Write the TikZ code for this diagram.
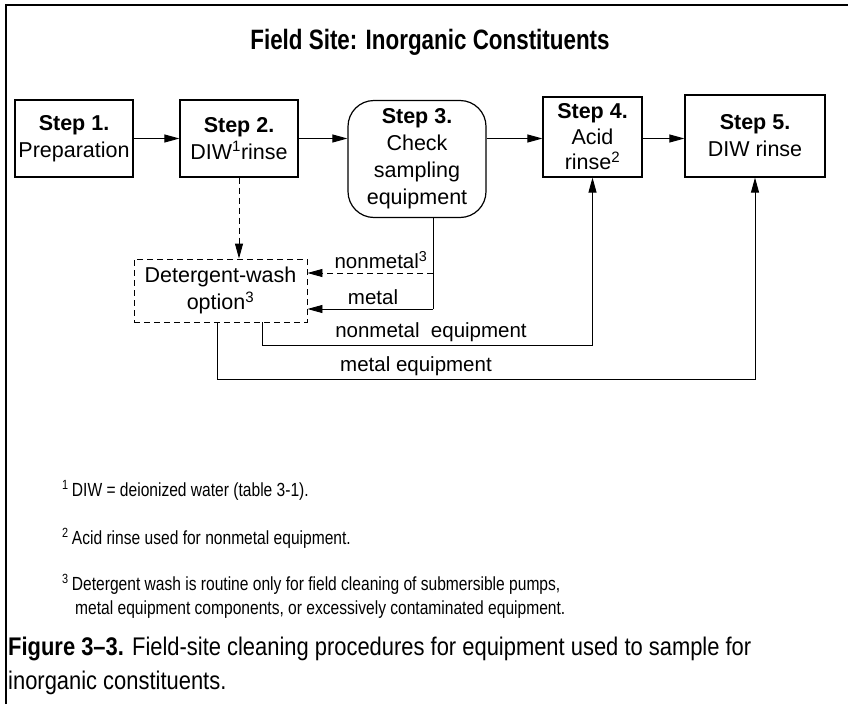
\documentclass[tikz,border=0pt]{standalone}
\usepackage{fontspec}
\setmainfont{Liberation Sans}
\newfontfamily\condfont[FakeStretch=0.86,Ligatures=TeX]{Liberation Sans}
\newfontfamily\titrefont[FakeStretch=0.8,Ligatures=TeX]{Liberation Sans}
\newfontfamily\notefont[FakeStretch=0.82,Ligatures=TeX]{Liberation Sans}
\usetikzlibrary{arrows.meta}

\tikzset{
  etape/.style={draw, line width=1.2pt, align=center, inner sep=0pt,
    font=\fontsize{21.5}{27}\selectfont},
  fleche/.style={-{Triangle[length=15pt,width=8pt]}, line width=0.9pt},
  tirets/.style={dashed, dash pattern=on 6pt off 4pt},
  etiq/.style={inner sep=0pt, font=\fontsize{20.5}{24}\selectfont},
  note/.style={anchor=base west, inner sep=0pt, font=\notefont\fontsize{19}{20}\selectfont},
  legende/.style={anchor=base west, inner sep=0pt, font=\condfont\fontsize{25.5}{30}\selectfont},
}

\begin{document}
\begin{tikzpicture}[x=1pt,y=-1pt]
      \useasboundingbox (0,0) rectangle (848,704);

      %cadre
      \draw[line width=2.6pt] (6,704) -- (6,5) -- (848,5);

      \node[font=\titrefont\bfseries\fontsize{28}{32}\selectfont] (titre) at (430,42)
        {Field Site: Inorganic Constituents};

      %etapes
      \node[etape, minimum width=118pt, minimum height=77pt] (s1) at (74,138.5)
        {\textbf{Step 1.}\\Preparation};
      \node[etape, minimum width=118pt, minimum height=77pt] (s2) at (239,138.5)
        {\textbf{Step 2.}\\DIW\textsuperscript{1}rinse};
      \node[etape, rounded corners=26pt, minimum width=138pt, minimum height=117pt] (s3) at (417,159)
        {\textbf{Step 3.}\\Check\\sampling\\equipment};
      \node[etape, minimum width=99pt, minimum height=80pt,
        font=\fontsize{21.5}{25.5}\selectfont] (s4) at (592.5,137)
        {\textbf{Step 4.}\\Acid\\rinse\textsuperscript{2}};
      \node[etape, minimum width=140pt, minimum height=82pt] (s5) at (755,136)
        {\textbf{Step 5.}\\DIW rinse};
      \node[etape, tirets, line width=0.9pt,
        minimum width=173pt, minimum height=63pt] (dw) at (220.5,290.5)
        {Detergent-wash\\option\textsuperscript{3}};

      %fleches du haut
      \draw[fleche] (s1) -- (s2);
      \draw[fleche] (s2.east) -- (s2.east -| s3.west);
      \draw[fleche] (s3.east |- s2.east) -- (s4.west |- s2.east);
      \draw[fleche] (s4.east |- s2.east) -- (s5.west |- s2.east);

      %lavage
      \draw[fleche, tirets] (s2.south) -- (s2.south |- dw.north);
      \coordinate (t3) at ([xshift=16pt]s3.south);
      \coordinate (nm) at (433,273);
      \coordinate (me) at (433,309);
      \draw[line width=0.9pt] (t3) -- (me);
      \draw[fleche, tirets] (nm) -- (nm -| dw.east);
      \draw[fleche] (me) -- (me -| dw.east);
      \node[etiq] (lnm) at (381,260) {nonmetal\textsuperscript{3}};
      \node[etiq] (lme) at (373,297) {metal};

      %vers etapes 4 et 5
      \draw[fleche] ([xshift=41.5pt]dw.south) -- ++(0,23) -| (s4.south);
      \draw[fleche] ([xshift=-3.5pt]dw.south) -- ++(0,57) -| (s5.south);
      \node[etiq] (lne) at (431,332) {nonmetal\ \ equipment};
      \node[etiq] (lmq) at (416,366) {metal equipment};

      %notes
      \node[note] (n1) at (62,496) {\textsuperscript{1}\,DIW = deionized water (table 3-1).};
      \node[note] (n2) at (62,544) {\textsuperscript{2}\,Acid rinse used for nonmetal equipment.};
      \node[note] (n3) at (62,590) {\textsuperscript{3}\,Detergent wash is routine only for field cleaning of submersible pumps,};
      \node[note] (n3b) at (75,614) {metal equipment components, or excessively contaminated equipment.};

      %legende
      \node[legende] (leg1) at (8,655)
        {\textbf{Figure 3--3.} Field-site cleaning procedures for equipment used to sample for};
      \node[legende] (leg2) at (8,689) {inorganic constituents.};
\end{tikzpicture}
\end{document}
